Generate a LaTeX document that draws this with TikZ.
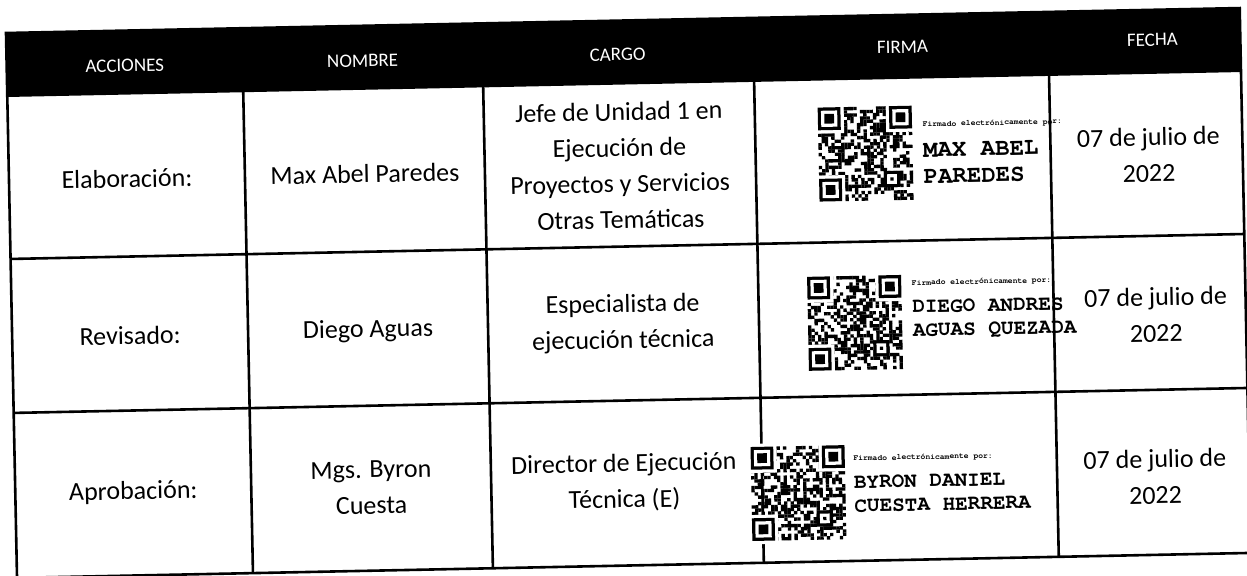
\documentclass[tikz,border=0pt]{standalone}
\usepackage{fontspec}
\setmainfont{Carlito}
\newfontfamily\stampfont{TeX Gyre Cursor}
\usetikzlibrary{positioning}

\tikzset{
  rule/.style={line width=1.3pt},
  head/.style={text=white,font=\fontsize{9.5}{11}\selectfont},
  cell/.style={align=center,inner sep=1pt,font=\fontsize{13}{18}\selectfont},
  stamp/.style={anchor=west,align=left,inner sep=0pt,
    font=\stampfont\bfseries\fontsize{10.5}{11.8}\selectfont},
  qrcode/.pic={
    \pgfmathsetseed{#1}
    \foreach \i in {0,...,28}
      \foreach \j in {0,...,28} {
        \pgfmathtruncatemacro\bit{2*rnd}
        \ifnum\bit=1
          \fill ({-47+\i*3.24},{-47+\j*3.24}) rectangle ++(3.35,3.35);
        \fi
      }
    % finder squares
    \foreach \fx/\fy in {0/0,22/0,0/22} {
      \fill[white] ({-47+(\fx-1)*3.24},{-47+(\fy-1)*3.24}) rectangle ++(29.2,29.2);
      \fill ({-47+\fx*3.24},{-47+\fy*3.24}) rectangle ++(22.7,22.7);
      \fill[white] ({-47+(\fx+1)*3.24},{-47+(\fy+1)*3.24}) rectangle ++(16.2,16.2);
      \fill ({-47+(\fx+2)*3.24},{-47+(\fy+2)*3.24}) rectangle ++(9.7,9.7);
    }
    \fill ({-47+20*3.24},{-47+20*3.24}) rectangle ++(16.2,16.2);
    \fill[white] ({-47+21*3.24},{-47+21*3.24}) rectangle ++(9.7,9.7);
    \fill ({-47+22*3.24},{-47+22*3.24}) rectangle ++(3.24,3.24);
    \node[minimum size=47pt,inner sep=0pt] (-box) at (0,0) {};
  }
}

\begin{document}
\begin{tikzpicture}[x=0.5pt,y=-0.5pt]
\useasboundingbox (0,0) rectangle (1247,575);
\fill[white] (0,0) rectangle (1247,575);

\begin{scope}[shift={(6,33)},rotate=1.16,transform shape]
% header band and grid
\fill (0,0) rectangle (1234,64);
\draw[rule] (0,0) rectangle (1234,545);
\draw[rule] (0,226) -- (1234,226);
\draw[rule] (0,380) -- (1234,380);
\foreach \u in {236,476,747,1042}
  \draw[rule] (\u,0) -- (\u,545);

\node[head] (hAcc) at (118,35) {ACCIONES};
\node[head] (hNom) at (356,35) {NOMBRE};
\node[head] (hCar) at (611,34) {CARGO};
\node[head] (hFir) at (896,32) {FIRMA};
\node[head] (hFec) at (1146,30) {FECHA};

% row 1
\node[cell] (acc1) at (118,148) {Elaboración:};
\node[cell] (nom1) at (356,148) {Max Abel Paredes};
\node[cell] (car1) at (611,145) {Jefe de Unidad 1 en\\Ejecución de\\Proyectos y Servicios\\Otras Temáticas};
\node[cell] (fec1) at (1140,145) {07 de julio de\\2022};
\pic (qr1) at (857,138) {qrcode=17};
\node[stamp,right=5pt of qr1-box,yshift=0pt,
  font=\stampfont\bfseries\fontsize{12}{13.2}\selectfont] (sig1)
  {{\fontsize{4}{5}\selectfont Firmado electrónicamente por:}\\[2pt]MAX ABEL\\PAREDES};

% row 2
\node[cell] (acc2) at (118,305) {Revisado:};
\node[cell] (nom2) at (356,305) {Diego Aguas};
\node[cell] (car2) at (611,303) {Especialista de\\ejecución técnica};
\node[cell] (fec2) at (1144,305) {07 de julio de\\2022};
\pic (qr2) at (843,307) {qrcode=23};
\node[stamp,right=5pt of qr2-box,yshift=6pt] (sig2)
  {{\fontsize{4}{5}\selectfont Firmado electrónicamente por:}\\[2pt]DIEGO ANDRES\\AGUAS QUEZADA};

% row 3
\node[cell] (acc3) at (118,462) {Aprobación:};
\node[cell] (nom3) at (356,462) {Mgs. Byron\\Cuesta};
\node[cell] (car3) at (609,462) {Director de Ejecución\\Técnica (E)};
\node[cell] (fec3) at (1140,467) {07 de julio de\\2022};
\pic (qr3) at (783,476) {qrcode=41};
\node[stamp,right=4pt of qr3-box,yshift=4pt] (sig3)
  {{\fontsize{4}{5}\selectfont Firmado electrónicamente por:}\\[2pt]BYRON DANIEL\\CUESTA HERRERA};
\end{scope}
\end{tikzpicture}
\end{document}
